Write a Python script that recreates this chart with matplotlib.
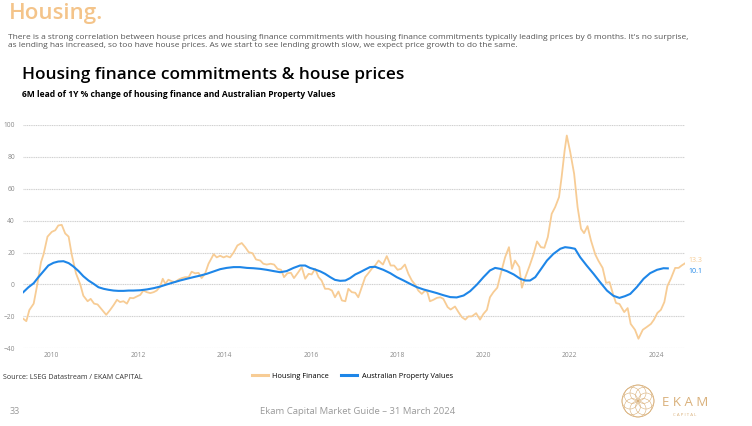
import numpy as np
import matplotlib.pyplot as plt
from matplotlib.patches import Ellipse

plt.rcParams['font.family'] = ['Open Sans', 'DejaVu Sans']

# Housing finance (6M lead, 1Y % change), decimal year / value
hf_year = [2009.34, 2009.41, 2009.48, 2009.58, 2009.65, 2009.75, 2009.81, 2009.90, 2010.00, 2010.08,
           2010.15, 2010.23, 2010.31, 2010.39, 2010.46, 2010.56, 2010.66, 2010.73, 2010.83, 2010.90,
           2010.98, 2011.06, 2011.16, 2011.26, 2011.35, 2011.43, 2011.51, 2011.58, 2011.66, 2011.74,
           2011.81, 2011.89, 2011.97, 2012.05, 2012.12, 2012.20, 2012.28, 2012.36, 2012.43, 2012.51,
           2012.57, 2012.63, 2012.70, 2012.78, 2012.86, 2012.93, 2013.01, 2013.09, 2013.17, 2013.24,
           2013.32, 2013.40, 2013.47, 2013.55, 2013.63, 2013.75, 2013.82, 2013.90, 2013.98, 2014.05,
           2014.13, 2014.21, 2014.30, 2014.40, 2014.48, 2014.56, 2014.65, 2014.73, 2014.83, 2014.90,
           2014.98, 2015.07, 2015.15, 2015.23, 2015.31, 2015.38, 2015.46, 2015.54, 2015.61, 2015.71,
           2015.79, 2015.87, 2015.95, 2016.02, 2016.10, 2016.18, 2016.25, 2016.33, 2016.41, 2016.49,
           2016.56, 2016.64, 2016.72, 2016.80, 2016.87, 2016.95, 2017.03, 2017.10, 2017.18, 2017.26,
           2017.34, 2017.41, 2017.49, 2017.57, 2017.67, 2017.76, 2017.85, 2017.93, 2018.01, 2018.09,
           2018.18, 2018.26, 2018.34, 2018.42, 2018.49, 2018.57, 2018.65, 2018.70, 2018.76, 2018.84,
           2018.92, 2019.00, 2019.07, 2019.17, 2019.24, 2019.34, 2019.42, 2019.50, 2019.58, 2019.65,
           2019.73, 2019.83, 2019.92, 2020.00, 2020.08, 2020.15, 2020.23, 2020.32, 2020.40, 2020.50,
           2020.59, 2020.66, 2020.73, 2020.83, 2020.89, 2020.97, 2021.07, 2021.16, 2021.24, 2021.33,
           2021.41, 2021.49, 2021.58, 2021.66, 2021.75, 2021.81, 2021.88, 2021.93, 2022.01, 2022.10,
           2022.18, 2022.26, 2022.33, 2022.41, 2022.49, 2022.59, 2022.66, 2022.76, 2022.84, 2022.92,
           2023.00, 2023.07, 2023.15, 2023.26, 2023.34, 2023.41, 2023.51, 2023.59, 2023.69, 2023.78,
           2023.88, 2023.95, 2024.03, 2024.11, 2024.19, 2024.26, 2024.34, 2024.44, 2024.52, 2024.59,
           2024.67]
hf_val = [-21.5, -23, -16, -12, -2, 14, 19, 30, 33, 34,
          37, 37.4, 32, 30, 19, 7, 0, -7, -10.5, -9,
          -12, -12.5, -15.7, -19, -16, -13, -9.6, -11, -10.5, -12,
          -8.4, -8.6, -7.5, -6.5, -3.8, -4.8, -5.4, -4.8, -3.8, -1.3,
          3.6, 0.4, 3, 2, 1.5, 3, 4, 4.6, 4.6, 8,
          7, 7.3, 4, 6.7, 13, 19, 17, 18, 17, 17.8,
          17, 20, 24.5, 26, 23.4, 20.3, 19.6, 15.7, 15, 13,
          12.5, 13, 12.5, 9.8, 9.2, 4.6, 7.1, 7.3, 4, 7.7,
          10.9, 3.6, 6.7, 6.3, 9.8, 4.6, 2.5, -2.7, -2.7, -3.8,
          -8, -4.4, -10, -10.5, -2.7, -4.8, -5.2, -8, -1.7, 4.6,
          7.3, 9.8, 11.9, 15, 12.5, 17.8, 11.9, 11.9, 9.2, 9.8,
          12.5, 6.7, 2.5, -0.2, -3.8, -5.9, -3.8, -4.8, -10.5, -9.6,
          -8.4, -8, -9, -14.2, -15.7, -13.8, -17.3, -20.5, -22, -20,
          -20, -18, -22, -18.4, -15.9, -8, -4.8, -2, 6.7, 17,
          23.4, 9.8, 15, 10.9, -2, 4.6, 11.9, 19, 27, 23.4,
          23, 29.7, 44.3, 48.5, 54.8, 67.3, 84, 93.4, 83, 69.4,
          48.5, 34.9, 32.2, 36.6, 27.6, 18.8, 15, 10.4, 1, 1.5,
          -5.9, -11.6, -12.2, -17.3, -14.8, -24.7, -28.4, -34, -28.4, -26.7,
          -24.7, -22, -17.8, -15.9, -11, -1, 3.6, 10.4, 10.4, 11.9,
          13.3]

# Australian property values, 1Y % change
apv_year = [2009.34, 2009.46, 2009.58, 2009.69, 2009.81, 2009.92, 2010.04, 2010.15, 2010.27, 2010.39,
            2010.50, 2010.62, 2010.73, 2010.85, 2010.97, 2011.08, 2011.20, 2011.31, 2011.43, 2011.54,
            2011.66, 2011.78, 2011.89, 2012.05, 2012.20, 2012.36, 2012.51, 2012.66, 2012.82, 2012.97,
            2013.13, 2013.28, 2013.44, 2013.59, 2013.75, 2013.90, 2014.05, 2014.21, 2014.36, 2014.52,
            2014.67, 2014.83, 2014.98, 2015.14, 2015.29, 2015.44, 2015.60, 2015.75, 2015.87, 2015.98,
            2016.10, 2016.22, 2016.33, 2016.45, 2016.56, 2016.68, 2016.80, 2016.91, 2017.03, 2017.14,
            2017.26, 2017.37, 2017.49, 2017.68, 2017.84, 2017.99, 2018.15, 2018.30, 2018.46, 2018.61,
            2018.76, 2018.92, 2019.07, 2019.23, 2019.38, 2019.54, 2019.69, 2019.85, 2020.00, 2020.15,
            2020.27, 2020.39, 2020.54, 2020.70, 2020.85, 2020.97, 2021.08, 2021.20, 2021.31, 2021.47,
            2021.62, 2021.78, 2021.89, 2022.01, 2022.12, 2022.24, 2022.39, 2022.55, 2022.70, 2022.86,
            2023.01, 2023.15, 2023.28, 2023.40, 2023.55, 2023.71, 2023.86, 2024.02, 2024.17, 2024.27]
apv_val = [-4.8, -1.7, 0.8, 4.6, 8.4, 11.9, 13.6, 14.4, 14.6, 13.4,
           11.3, 8.4, 5.2, 2.5, 0.4, -1.7, -2.7, -3.3, -3.8, -4,
           -4, -3.8, -3.8, -3.6, -3.1, -2.3, -1.3, 0, 1.3, 2.5,
           3.6, 4.6, 5.6, 6.7, 8.2, 9.6, 10.4, 10.9, 10.9, 10.4,
           10.2, 9.8, 9.2, 8.4, 7.7, 8.4, 10.4, 11.9, 11.9, 10.4,
           9.4, 8.2, 6.7, 4.6, 2.9, 2.3, 2.5, 4, 6.3, 7.7,
           9.4, 10.9, 11.1, 9.2, 7.1, 4.6, 2.5, 0.4, -1.7, -3.1,
           -4.2, -5.4, -6.7, -7.9, -8.1, -6.9, -4.2, 0, 4.6, 8.8,
           10.4, 9.8, 8.4, 6.3, 3.6, 2.5, 2.5, 4.6, 8.8, 15,
           19.2, 22.4, 23.4, 23, 22.4, 17.1, 11.9, 6.7, 1.5, -3.8,
           -7.1, -8.4, -7.3, -5.9, -1.7, 3.6, 7.1, 9.2, 10.2, 10.1]

year_ticks = [2010, 2012, 2014, 2016, 2018, 2020, 2022, 2024]
y_ticks = [-40, -20, 0, 20, 40, 60, 80, 100]

peach = '#F7CC95'
blue = '#1E86E8'
W, H = 752, 426

fig = plt.figure(figsize=(7.52, 4.26), dpi=100)
ax = fig.add_axes([0.031, 0.1824, 0.880, 0.5242])

ax.plot(hf_year, hf_val, color=peach, lw=1.3, label='Housing Finance', zorder=3)
ax.plot(apv_year, apv_val, color=blue, lw=1.5, label='Australian Property Values', zorder=4)

ax.set_xlim(2009.34, 2024.67)
ax.set_ylim(-40, 100)
ax.set_xticks(year_ticks)
ax.set_xticklabels([str(y) for y in year_ticks])
ax.set_yticks(y_ticks)
ax.tick_params(length=0, labelsize=4.8, labelcolor='#8a8a8a')
ax.tick_params(axis='y', pad=6)
ax.tick_params(axis='x', pad=3)
for s in ax.spines.values():
    s.set_visible(False)
ax.grid(axis='y', color='#d0d0d0', lw=0.8, ls=(0, (1, 0.6)))
ax.set_axisbelow(True)

# end labels
ax.text(2024.75, hf_val[-1] + 1.5, '13.3', color=peach, fontsize=5, va='center', clip_on=False)
ax.text(2024.75, apv_val[-1] - 1.8, '10.1', color=blue, fontsize=5, va='center', clip_on=False)

leg = ax.legend(loc='center', bbox_to_anchor=(0.497, -0.125), ncol=2, frameon=False,
                fontsize=5.3, handlelength=2.2, handletextpad=0.6, columnspacing=1.6)
for h in leg.get_lines():
    h.set_linewidth(2.2)

fig.text(0.012, 0.993, 'Housing.', fontsize=16, color='#F4C48A', va='top', ha='left', weight='semibold')
fig.text(0.010, 0.921,
         "There is a strong correlation between house prices and housing finance commitments with housing finance commitments typically leading prices by 6 months. It's no surprise,\n"
         "as lending has increased, so too have house prices. As we start to see lending growth slow, we expect price growth to do the same.",
         fontsize=6.0, color='#555555', va='top', ha='left', linespacing=1.3)
fig.text(0.029, 0.825, 'Housing finance commitments & house prices', fontsize=12.4, color='black',
         va='center', ha='left', weight='semibold')
fig.text(0.029, 0.777, '6M lead of 1Y % change of housing finance and Australian Property Values',
         fontsize=6.1, color='black', va='center', ha='left', weight='bold')
fig.text(0.004, 0.115, 'Source: LSEG Datastream / EKAM CAPITAL', fontsize=5.1, color='#333333', va='center')

fig.text(0.013, 0.035, '33', fontsize=6.5, color='#9a9a9a', va='center')
fig.text(0.476, 0.035, 'Ekam Capital Market Guide \u2013 31 March 2024', fontsize=6.8, color='#9a9a9a',
         va='center', ha='center')

# logo
gold = '#D9B07A'
cx, cy, r = 638, 25, 16
for a in np.linspace(0, 2 * np.pi, 8, endpoint=False):
    fig.patches.append(Ellipse(((cx + 0.5 * r * np.cos(a)) / W, (cy + 0.5 * r * np.sin(a)) / H),
                               r / W, r / H, transform=fig.transFigure, fill=False, ec=gold, lw=0.4))
fig.patches.append(Ellipse((cx / W, cy / H), 2 * r / W, 2 * r / H, transform=fig.transFigure,
                           fill=False, ec=gold, lw=0.6))
fig.text(662 / W, 1 - 402 / H, 'E K A M', fontsize=9.5, color=gold, va='center', ha='left')
fig.text(685 / W, 1 - 415 / H, 'C A P I T A L', fontsize=3.2, color=gold, va='center', ha='center')

fig.savefig('out.png', dpi=100)
